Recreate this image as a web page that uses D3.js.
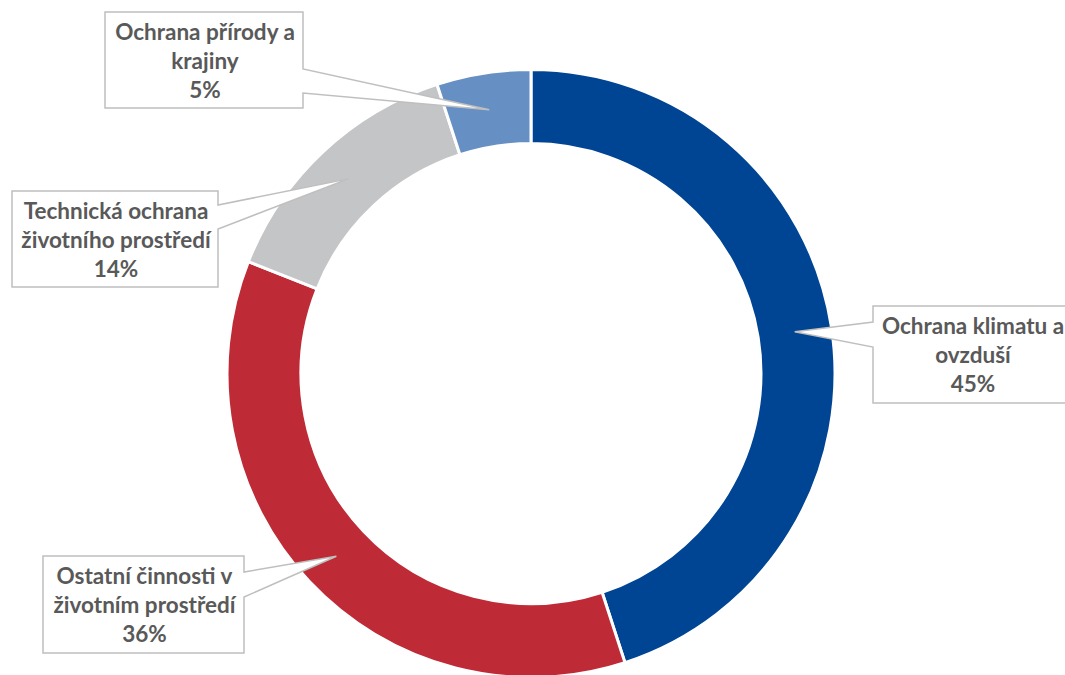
<!DOCTYPE html>
<html>
<head>
<meta charset="utf-8">
<script src="https://cdn.jsdelivr.net/npm/d3@7"></script>
<style>
  body { margin: 0; background: #fff; }
</style>
</head>
<body>
<script>
var width = 1065,
    height = 675,
    cx = 531,
    cy = 373.5,
    outerR = 304,
    innerR = 230;

// data
var categories = ["Ochrana klimatu a ovzduší", "Ostatní činnosti v životním prostředí",
                  "Technická ochrana životního prostředí", "Ochrana přírody a krajiny"];
var shares = [45, 36, 14, 5];
var colors = ["#004494", "#be2a35", "#c4c5c7", "#6690c4"];
var labelLines = [
    ["Ochrana klimatu a", "ovzduší"],
    ["Ostatní činnosti v", "životním prostředí"],
    ["Technická ochrana", "životního prostředí"],
    ["Ochrana přírody a", "krajiny"]
];

// callout boxes: x, y, w, h, side of tail, tail base offsets from top
var boxes = [
    {x: 873, y: 306, w: 198, h: 97, side: "left", t1: 16, t2: 41},
    {x: 43, y: 556, w: 201, h: 97, side: "right", t1: 16, t2: 41},
    {x: 12, y: 191, w: 206, h: 96, side: "right", t1: 14, t2: 38},
    {x: 105, y: 12, w: 198, h: 96, side: "right", t1: 57, t2: 81}
];

var svg = d3.select("body").append("svg")
    .attr("width", width)
    .attr("height", height);

var pie = d3.pie().sort(null).value(function(d) { return d; });
var arcs = pie(shares);

var arc = d3.arc().innerRadius(innerR).outerRadius(outerR);

var g = svg.append("g")
    .attr("transform", "translate(" + [cx, cy] + ")");

g.selectAll("path")
    .data(arcs)
    .enter().append("path")
    .attr("d", arc)
    .attr("fill", function(d, i) { return colors[i]; })
    .attr("stroke", "#fff")
    .attr("stroke-width", 3)
    .attr("stroke-linejoin", "miter");

var labels = svg.selectAll("g.label")
    .data(arcs)
    .enter().append("g")
    .attr("class", "label");

labels.append("path")
    .attr("fill", "#fff")
    .attr("stroke", "#bfbfbf")
    .attr("stroke-width", 1.5)
    .attr("d", function(d, i) {
        var b = boxes[i],
            c = arc.centroid(d),
            tip = [cx + c[0], cy + c[1]],
            l = b.x, r = b.x + b.w, t = b.y, bt = b.y + b.h;
        if (b.side == "right") {
            return "M" + [l, t] + "L" + [r, t] + "L" + [r, t + b.t1] + "L" + tip +
                "L" + [r, t + b.t2] + "L" + [r, bt] + "L" + [l, bt] + "Z";
        }
        return "M" + [l, t] + "L" + [r, t] + "L" + [r, bt] + "L" + [l, bt] +
            "L" + [l, t + b.t2] + "L" + tip + "L" + [l, t + b.t1] + "Z";
    });

labels.each(function(d, i) {
    var b = boxes[i],
        lines = labelLines[i].concat([shares[i] + "%"]);
    d3.select(this).selectAll("text")
        .data(lines)
        .enter().append("text")
        .attr("x", b.x + b.w / 2 + 1)
        .attr("y", function(s, j) { return b.y + 28 + j * 29; })
        .attr("text-anchor", "middle")
        .attr("font-family", "Lato, 'Open Sans', sans-serif")
        .attr("font-weight", "bold")
        .attr("font-size", 22.5)
        .attr("fill", "#595959")
        .text(function(s) { return s; });
});
</script>
</body>
</html>
